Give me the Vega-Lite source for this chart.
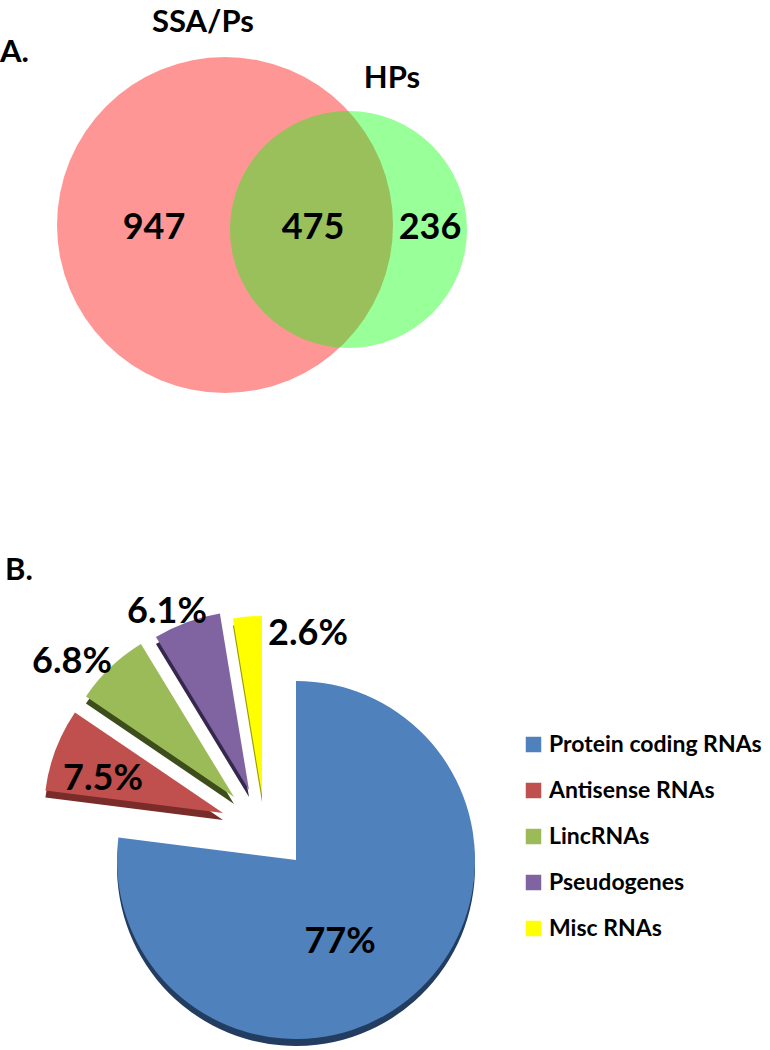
{
  "$schema": "https://vega.github.io/schema/vega-lite/v6.json",
  "width": 770,
  "height": 1050,
  "autosize": {"type": "fit", "contains": "padding"},
  "padding": 0,
  "background": "white",
  "config": {"view": {"stroke": null}, "font": "Lato"},
  "datasets": {
    "venn": [
      {"set": "SSA/Ps", "cx": 225, "cy": 225, "t0": 0, "t1": 100},
      {"set": "HPs", "cx": 348.5, "cy": 229.5, "t0": 0, "t1": 100}
    ],
    "pie": [
      {"type": "Protein coding RNAs", "pct": 77, "t0": 0, "t1": 77, "cx": 296, "cy": 860},
      {"type": "Antisense RNAs", "pct": 7.5, "t0": 77, "t1": 84.5, "cx": 223, "cy": 813},
      {"type": "LincRNAs", "pct": 6.8, "t0": 84.5, "t1": 91.3, "cx": 234, "cy": 797},
      {"type": "Pseudogenes", "pct": 6.1, "t0": 91.3, "t1": 97.4, "cx": 249, "cy": 790},
      {"type": "Misc RNAs", "pct": 2.6, "t0": 97.4, "t1": 100, "cx": 262, "cy": 795}
    ],
    "labels": [
      {"kind": "panel", "text": "A.", "lx": 0, "ly": 62},
      {"kind": "panel", "text": "B.", "lx": 5, "ly": 580},
      {"kind": "set", "text": "SSA/Ps", "lx": 203, "ly": 32},
      {"kind": "set", "text": "HPs", "lx": 392, "ly": 88},
      {"kind": "count", "text": "947", "lx": 154, "ly": 239},
      {"kind": "count", "text": "475", "lx": 313, "ly": 239},
      {"kind": "count", "text": "236", "lx": 430, "ly": 239},
      {"kind": "pct", "text": "77%", "lx": 340, "ly": 953},
      {"kind": "pct", "text": "7.5%", "lx": 103, "ly": 790},
      {"kind": "pct", "text": "6.8%", "lx": 72, "ly": 673},
      {"kind": "pct", "text": "6.1%", "lx": 167, "ly": 623},
      {"kind": "pct", "text": "2.6%", "lx": 308, "ly": 645}
    ]
  },
  "encoding": {
    "x": {"field": "cx", "type": "quantitative", "scale": {"domain": [0, 770], "nice": false, "zero": false}, "axis": null},
    "y": {"field": "cy", "type": "quantitative", "scale": {"domain": [0, 1050], "nice": false, "zero": false, "reverse": true}, "axis": null}
  },
  "layer": [
    {
      "data": {"name": "venn"},
      "transform": [{"filter": "datum.set === 'SSA/Ps'"}],
      "mark": {"type": "arc", "radius": 168, "fill": "#ff0000", "fillOpacity": 0.41, "stroke": null},
      "encoding": {
        "theta": {"field": "t0", "type": "quantitative", "scale": {"type": "linear", "domain": [0, 100], "range": [0, 6.283185307179586]}},
        "theta2": {"field": "t1"}
      }
    },
    {
      "data": {"name": "venn"},
      "transform": [{"filter": "datum.set === 'HPs'"}],
      "mark": {"type": "arc", "radius": 118.5, "fill": "#00ff00", "fillOpacity": 0.4, "stroke": null},
      "encoding": {
        "theta": {"field": "t0", "type": "quantitative", "scale": {"type": "linear", "domain": [0, 100], "range": [0, 6.283185307179586]}},
        "theta2": {"field": "t1"}
      }
    },
    {
      "data": {"name": "pie"},
      "mark": {"type": "arc", "radius": 179, "yOffset": 7, "stroke": null},
      "encoding": {
        "theta": {"field": "t0", "type": "quantitative", "scale": {"type": "linear", "domain": [0, 100], "range": [0, 6.283185307179586]}},
        "theta2": {"field": "t1"},
        "color": {
          "field": "type", "type": "nominal",
          "scale": {"domain": ["Protein coding RNAs", "Antisense RNAs", "LincRNAs", "Pseudogenes", "Misc RNAs"],
                    "range": ["#223d60", "#7a2c2a", "#3d4d1c", "#35284c", "#9c9c00"]},
          "legend": null
        }
      }
    },
    {
      "data": {"name": "pie"},
      "mark": {"type": "arc", "radius": 179, "stroke": null},
      "encoding": {
        "theta": {"field": "t0", "type": "quantitative", "scale": {"type": "linear", "domain": [0, 100], "range": [0, 6.283185307179586]}},
        "theta2": {"field": "t1"},
        "fill": {
          "field": "type", "type": "nominal",
          "scale": {"domain": ["Protein coding RNAs", "Antisense RNAs", "LincRNAs", "Pseudogenes", "Misc RNAs"],
                    "range": ["#4f81bd", "#c0504d", "#9bbb59", "#8064a2", "#ffff00"]},
          "legend": {
            "orient": "none", "legendX": 522, "legendY": 733, "title": null, "padding": 0,
            "symbolType": "square", "symbolSize": 240, "symbolStrokeWidth": 0, "symbolOpacity": 1,
            "labelFontSize": 23, "labelFont": "Lato", "labelFontWeight": "bold", "labelColor": "black",
            "labelOffset": 4, "rowPadding": 22, "labelLimit": 400
          }
        }
      }
    },
    {
      "data": {"name": "labels"},
      "transform": [{"filter": "datum.kind === 'panel'"}],
      "mark": {"type": "text", "align": "left", "baseline": "alphabetic", "fontSize": 31, "fontWeight": "bold", "font": "Lato", "color": "black"},
      "encoding": {"x": {"field": "lx", "type": "quantitative"}, "y": {"field": "ly", "type": "quantitative"}, "text": {"field": "text"}}
    },
    {
      "data": {"name": "labels"},
      "transform": [{"filter": "datum.kind === 'set'"}],
      "mark": {"type": "text", "align": "center", "baseline": "alphabetic", "fontSize": 31, "fontWeight": "bold", "font": "Lato", "color": "black"},
      "encoding": {"x": {"field": "lx", "type": "quantitative"}, "y": {"field": "ly", "type": "quantitative"}, "text": {"field": "text"}}
    },
    {
      "data": {"name": "labels"},
      "transform": [{"filter": "datum.kind === 'count' || datum.kind === 'pct'"}],
      "mark": {"type": "text", "align": "center", "baseline": "alphabetic", "fontSize": 36, "fontWeight": "bold", "font": "Lato", "color": "black"},
      "encoding": {"x": {"field": "lx", "type": "quantitative"}, "y": {"field": "ly", "type": "quantitative"}, "text": {"field": "text"}}
    }
  ],
  "resolve": {"scale": {"color": "independent", "fill": "independent"}}
}
